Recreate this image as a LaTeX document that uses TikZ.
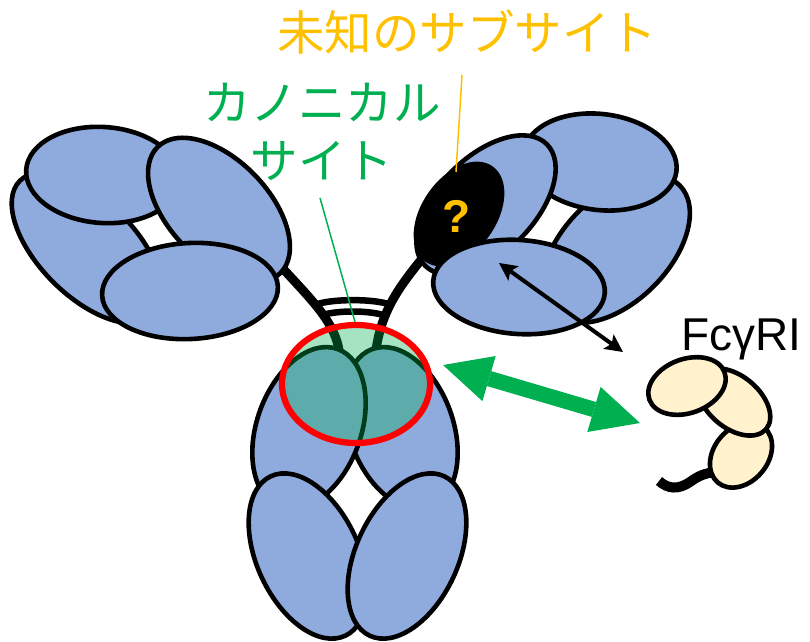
\documentclass[tikz,border=0pt]{standalone}
\usepackage{fontspec}
\setmainfont{Liberation Sans}
\newfontfamily\jpfont{Noto Sans CJK JP}
\usetikzlibrary{arrows.meta}
\definecolor{domblue}{HTML}{8FAADC}
\definecolor{rcpbeige}{HTML}{FFF2CC}
\definecolor{sitegreen}{HTML}{00B050}
\definecolor{subamber}{HTML}{FFC000}
% one immunoglobulin-like domain: style, centre x, centre y, angle, radii
\newcommand\igdom[6]{\path[#1,shift={(#2,#3)},rotate=#4] (0,0) ellipse [x radius=#5pt,y radius=#6pt];}
\begin{document}
\begin{tikzpicture}[x=1pt,y=-1pt,
  dom/.style={fill=domblue,draw=black,line width=4.6pt},
  blackdom/.style={fill=black,draw=black,line width=4.6pt},
  rcp/.style={fill=rcpbeige,draw=black,line width=4.6pt},
  chain/.style={draw=black,line width=9pt},
  tail/.style={draw=black,line width=10pt},
  bond/.style={draw=black,line width=6.5pt},
  sitering/.style={fill=sitegreen,fill opacity=0.35,draw=red,line width=6.2pt},
  jplabel/.style={font=\jpfont\fontsize{47.5}{58}\selectfont,inner sep=0pt,align=center},
  leader/.style={line width=1.5pt},
  bigarrow/.style={draw=sitegreen,line width=15.5pt,
    {Triangle[length=48pt,width=47pt,line width=0pt]}-{Triangle[length=48pt,width=47pt,line width=0pt]}},
  thinarrow/.style={draw=black,line width=4pt,
    {Stealth[length=18pt,width=18pt,inset=4pt,line width=0pt]}-{Stealth[length=18pt,width=18pt,inset=4pt,line width=0pt]}}]
\useasboundingbox (0,0) rectangle (810,641);

% hinge chains and the two disulfide bridges
\path[chain] (262,245) .. controls (300,290) and (333,315) .. (339,350);
\path[chain] (440,236) .. controls (410,275) and (383,300) .. (376,350);
\path[bond] (315,305) .. controls (330,298.5) and (376,298.5) .. (391,305);
\path[bond] (320,316) .. controls (334,310) and (371,310) .. (386,316);

% left Fab arm
\igdom{dom}{87}{248}{-45}{95}{48}
\igdom{dom}{103}{175}{-4}{77}{48}
\igdom{dom}{219}{210}{-46}{88}{50}
\igdom{dom}{190}{291}{3}{88}{48}

% right Fab arm with the unknown sub-site
\igdom{dom}{616}{249}{45}{90}{53}
\igdom{dom}{600}{162}{-7}{77}{48}
\igdom{dom}{486}{205}{45}{86}{48}
\igdom{blackdom}{459}{214}{55}{56}{35}
\igdom{dom}{519}{287}{-4}{86}{47}
\node[font=\bfseries\fontsize{46}{50}\selectfont,text=subamber,inner sep=0pt] (qmark) at (457,216) {?};

% Fc region
\igdom{dom}{401}{428}{20}{52}{84}
\igdom{dom}{309}{428}{-20}{52}{84}
\igdom{dom}{308}{556}{-65}{88}{51}
\igdom{dom}{407}{556}{65}{88}{51}

% canonical site highlight
\path[sitering] (356,384) ellipse [x radius=74pt,y radius=59pt];

% labels and leader lines
\node[jplabel,text=subamber] (unknown) at (467,32) {未知のサブサイト};
\node[jplabel,text=sitegreen] (canonical) at (322,132) {カノニカル\\サイト};
\coordinate (unknownTip) at (462,75);
\coordinate (unknownEnd) at (456,172);
\coordinate (canonicalTip) at (320,198);
\coordinate (canonicalEnd) at (355,322);
\draw[leader,subamber] (unknownTip) -- (unknownEnd);
\draw[leader,sitegreen] (canonicalTip) -- (canonicalEnd);

% Fc gamma receptor I
\path[tail] (659,481) .. controls (668,489) and (678,490) .. (690,482) .. controls (698,476) and (705,473) .. (716,472);
\igdom{rcp}{741}{455}{50}{36}{27}
\igdom{rcp}{734}{402}{-40}{42}{26}
\igdom{rcp}{687}{386}{20}{40}{27}
\node[font=\fontsize{46}{50}\selectfont,anchor=base west,inner sep=0pt] (fcr) at (681,350) {FcγRI};

% interactions
\coordinate (siteArrowA) at (443,365);
\coordinate (siteArrowB) at (640,423);
\coordinate (subArrowA) at (499,263);
\coordinate (subArrowB) at (623,352);
\path[bigarrow] (siteArrowA) -- (siteArrowB);
\path[thinarrow] (subArrowA) -- (subArrowB);
\end{tikzpicture}
\end{document}
